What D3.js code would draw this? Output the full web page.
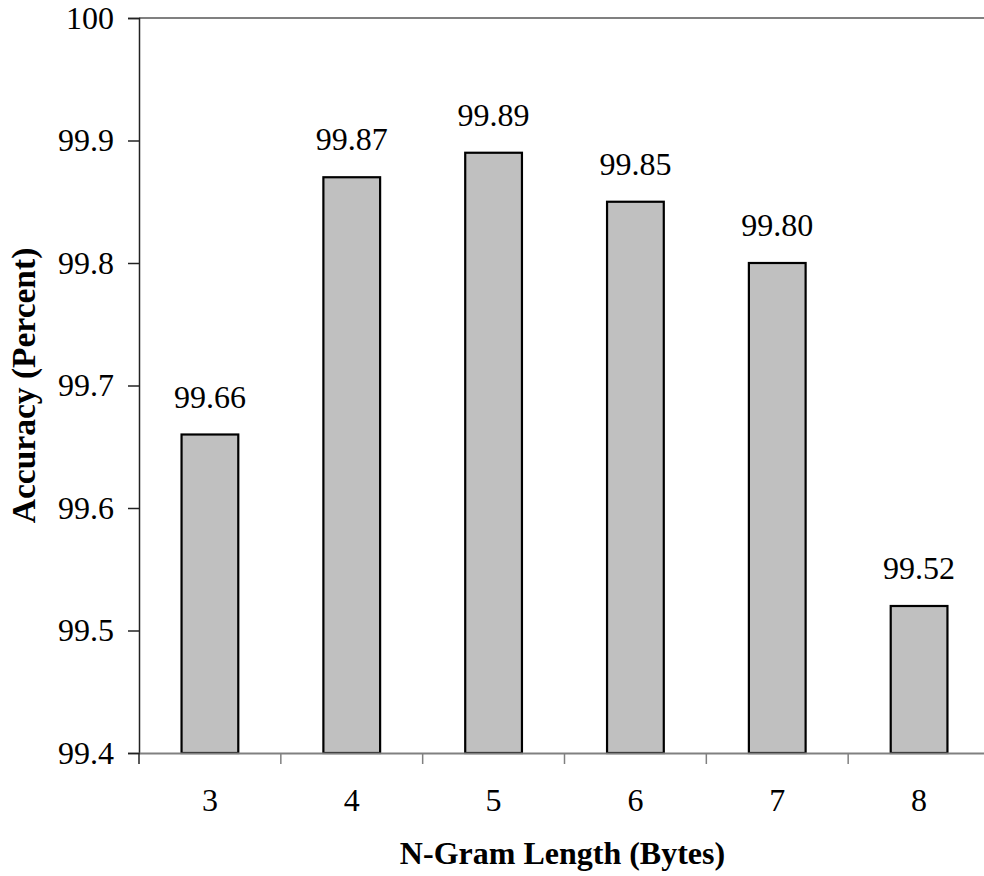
<!DOCTYPE html>
<html>
<head>
<meta charset="utf-8">
<script src="https://cdn.jsdelivr.net/npm/d3@7"></script>
<style>
  html, body { margin: 0; padding: 0; background: #fff; }
  svg { display: block; }
  text { font-family: "Liberation Serif", "Times New Roman", serif; fill: #000; }
</style>
</head>
<body>
<script>
// N-gram length vs. classification accuracy
const categories = ["3", "4", "5", "6", "7", "8"];
const accuracy = [99.66, 99.87, 99.89, 99.85, 99.80, 99.52];
const valueLabels = ["99.66", "99.87", "99.89", "99.85", "99.80", "99.52"];
const yTicks = [99.4, 99.5, 99.6, 99.7, 99.8, 99.9, 100];
const yTickLabels = ["99.4", "99.5", "99.6", "99.7", "99.8", "99.9", "100"];

const W = 984, H = 876;
const margin = { left: 139, top: 18, bottom: 753 };
const plotRight = 990;

const svg = d3.select("body").append("svg")
  .attr("width", W).attr("height", H);

const x = d3.scaleBand()
  .domain(categories)
  .range([margin.left, plotRight])
  .paddingInner(0.6)
  .paddingOuter(0.3);

const xOuter = d3.scaleBand()
  .domain(categories)
  .range([margin.left, plotRight]);

const y = d3.scaleLinear()
  .domain([99.4, 100])
  .range([margin.bottom, margin.top]);

// top border of the plot area
svg.append("line")
  .attr("x1", margin.left).attr("x2", plotRight)
  .attr("y1", y(100)).attr("y2", y(100))
  .attr("stroke", "#808080").attr("stroke-width", 2);

// bars
svg.append("g").selectAll("rect")
  .data(accuracy)
  .join("rect")
  .attr("x", (d, i) => x(categories[i]))
  .attr("width", x.bandwidth())
  .attr("y", d => y(d))
  .attr("height", d => y(99.4) - y(d))
  .attr("fill", "#c0c0c0")
  .attr("stroke", "#000")
  .attr("stroke-width", 2.2);

// value labels
svg.append("g").selectAll("text")
  .data(accuracy)
  .join("text")
  .attr("x", (d, i) => x(categories[i]) + x.bandwidth() / 2)
  .attr("y", d => y(d) - 27)
  .attr("text-anchor", "middle")
  .attr("font-size", 32)
  .text((d, i) => valueLabels[i]);

// y axis
const yAxis = d3.axisLeft(y)
  .tickValues(yTicks)
  .tickFormat((d, i) => yTickLabels[i])
  .tickSize(11)
  .tickPadding(14);
const gy = svg.append("g")
  .attr("transform", `translate(${margin.left},0)`)
  .call(yAxis);
gy.select(".domain").attr("stroke", "#222").attr("stroke-width", 1.5);
gy.selectAll(".tick line").attr("stroke", "#222").attr("stroke-width", 1.5);
gy.selectAll(".tick text")
  .attr("font-size", 32)
  .attr("fill", "#000");

// x axis: ticks sit on category boundaries
const xAxis = d3.axisBottom(xOuter).tickSize(0).tickPadding(35);
const gx = svg.append("g")
  .attr("transform", `translate(0,${margin.bottom})`)
  .call(xAxis);
gx.select(".domain").attr("stroke", "#808080").attr("stroke-width", 2);
gx.selectAll(".tick text")
  .attr("font-size", 32)
  .attr("fill", "#000");
gx.append("g").selectAll("line")
  .data(categories)
  .join("line")
  .attr("x1", d => xOuter(d)).attr("x2", d => xOuter(d))
  .attr("y1", 0).attr("y2", 11)
  .attr("stroke", d => d === categories[0] ? "#222" : "#808080")
  .attr("stroke-width", 1.5);

// axis titles
svg.append("text")
  .attr("x", (margin.left + plotRight) / 2 - 2)
  .attr("y", 864)
  .attr("text-anchor", "middle")
  .attr("font-size", 32)
  .attr("font-weight", "bold")
  .text("N-Gram Length (Bytes)");

svg.append("text")
  .attr("transform", `translate(35,${(margin.top + margin.bottom) / 2}) rotate(-90)`)
  .attr("text-anchor", "middle")
  .attr("font-size", 33.5)
  .attr("font-weight", "bold")
  .text("Accuracy (Percent)");
</script>
</body>
</html>
